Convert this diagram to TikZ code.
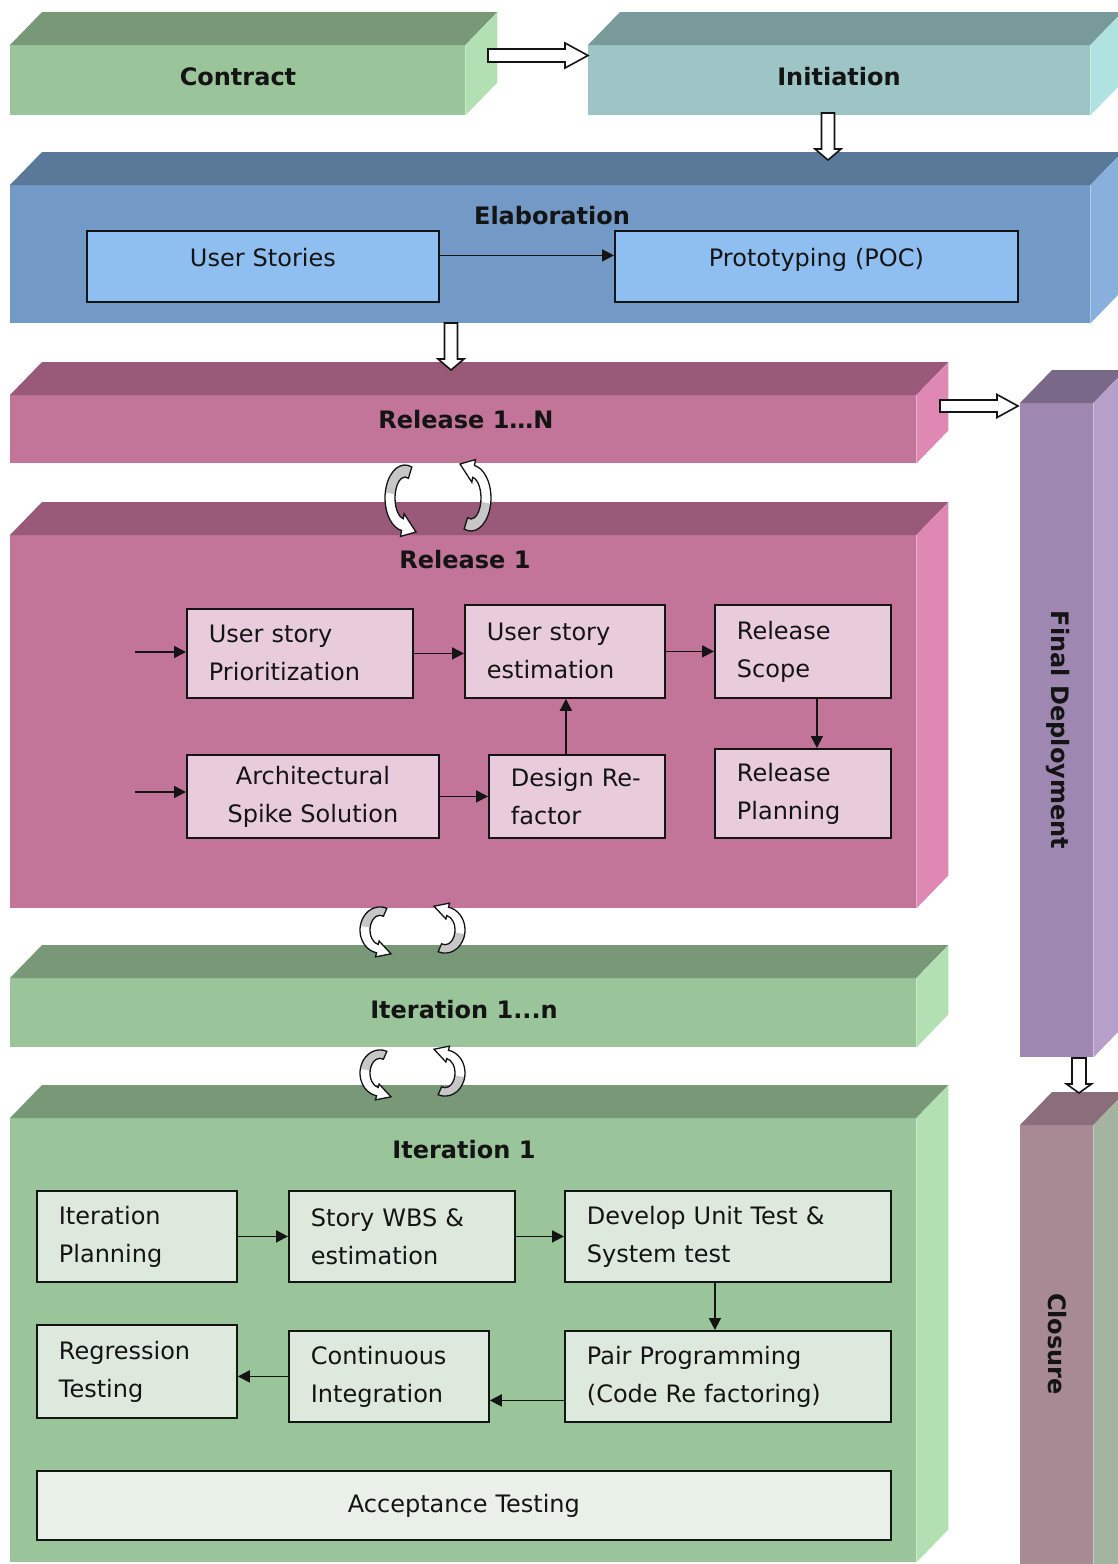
\documentclass[tikz,border=0pt]{standalone}
\usepackage{fontspec}
\setmainfont{DejaVu Sans}
\usetikzlibrary{calc,arrows.meta}
\definecolor{gF}{HTML}{9AC49A}\definecolor{gT}{HTML}{789878}\definecolor{gR}{HTML}{B2E0B2}
\definecolor{cF}{HTML}{9DC5C5}\definecolor{cT}{HTML}{789A9A}\definecolor{cR}{HTML}{B0E2E2}
\definecolor{bF}{HTML}{7399C6}\definecolor{bT}{HTML}{5A7898}\definecolor{bR}{HTML}{88B0DC}
\definecolor{pF}{HTML}{C27499}\definecolor{pT}{HTML}{985A78}\definecolor{pR}{HTML}{E088B4}
\definecolor{vF}{HTML}{9E88B2}\definecolor{vT}{HTML}{7A6888}\definecolor{vR}{HTML}{B6A0CA}
\definecolor{kF}{HTML}{A88A94}\definecolor{kT}{HTML}{8A6E7A}\definecolor{kR}{HTML}{A4B4A0}
\definecolor{pBox}{HTML}{E8CCDC}\definecolor{gBox}{HTML}{DDE9DC}\definecolor{gBoxL}{HTML}{E9F0E8}
\definecolor{bBox}{HTML}{8FBFF0}\definecolor{ink}{HTML}{141414}
\tikzset{
  front/.style={anchor=north west, inner sep=0pt, draw=none},
  title/.style={font=\bfseries\fontsize{24}{28}\selectfont, text=ink, inner sep=0pt},
  ibox/.style={anchor=north west, draw=ink, line width=1.8pt, inner ysep=0pt,
    font=\fontsize{24}{38}\selectfont, text=ink},
  conn/.style={draw=ink, line width=1.8pt, -{Triangle[length=12pt,width=12pt]}},
  hollow/.style={fill=white, draw=ink, line width=1.6pt, line join=miter},
}
\newcommand\block[8]{%
  \node[front, fill=#6, minimum width=#4pt, minimum height=#5pt] (#1) at (#2,#3) {};
  \fill[#7] (#1.north west) -- ++(32,-33) -- ($(#1.north east)+(32,-33)$) -- (#1.north east) -- cycle;
  \fill[#8] (#1.north east) -- ++(32,-33) -- ($(#1.south east)+(32,-33)$) -- (#1.south east) -- cycle;}
\newcommand\ibox[9]{%
  \pgfmathsetmacro\tw{#4-44}%
  \node[ibox, fill=#6, minimum width=#4pt, minimum height=#5pt, text width=\tw pt, inner xsep=22pt, align=#7] (#1) at (#2,#3) {#8#9};}
\newcommand\harrowR[5]{%
  \draw[hollow] ($(#1)+(0,-#3)$) -- ($(#2)+(-#5,-#3)$) -- ($(#2)+(-#5,-#4)$) -- (#2)
    -- ($(#2)+(-#5,#4)$) -- ($(#2)+(-#5,#3)$) -- ($(#1)+(0,#3)$) -- cycle;}
\newcommand\harrowD[5]{%
  \draw[hollow] ($(#1)+(-#3,0)$) -- ($(#2)+(-#3,-#5)$) -- ($(#2)+(-#4,-#5)$) -- (#2)
    -- ($(#2)+(#4,-#5)$) -- ($(#2)+(#3,-#5)$) -- ($(#1)+(#3,0)$) -- cycle;}
\newcommand\curvarrow[4]{%
  \begin{scope}[shift={(#1,#2)}, rotate=#3, yscale=#4]
    \fill[white] (-70:20 and 33) arc[start angle=-70, end angle=-260, x radius=20, y radius=33]
      -- (100:26 and 39) -- (11,34) -- (100:5 and 16) -- (100:10 and 21)
      arc[start angle=-260, end angle=-70, x radius=10, y radius=21] -- cycle;
    \fill[black!22] (-70:20 and 33) arc[start angle=-70, end angle=-170, x radius=20, y radius=33]
      -- (-170:10 and 21) arc[start angle=-170, end angle=-70, x radius=10, y radius=21] -- cycle;
    \draw[ink, line width=1.3pt, line join=miter] (-70:20 and 33) arc[start angle=-70, end angle=-260, x radius=20, y radius=33]
      -- (100:26 and 39) -- (11,34) -- (100:5 and 16) -- (100:10 and 21)
      arc[start angle=-260, end angle=-70, x radius=10, y radius=21] -- cycle;
  \end{scope}}
\begin{document}
\begin{tikzpicture}[x=1pt,y=-1pt]
\useasboundingbox (0,0) rectangle (1118,1564);
\clip (0,0) rectangle (1118,1564);
\fill[white] (0,0) rectangle (1118,1564);

% 3D blocks
\block{contract}{10}{45}{455}{70}{gF}{gT}{gR}
\block{initiation}{588}{45}{502}{70}{cF}{cT}{cR}
\block{elab}{10}{185}{1080}{138}{bF}{bT}{bR}
\block{relN}{10}{395}{906}{68}{pF}{pT}{pR}
\block{rel1}{10}{535}{906}{373}{pF}{pT}{pR}
\block{itN}{10}{978}{906}{69}{gF}{gT}{gR}
\block{it1}{10}{1118}{906}{444}{gF}{gT}{gR}
\block{final}{1020}{403}{73}{654}{vF}{vT}{vR}
\block{closure}{1020}{1125}{73}{480}{kF}{kT}{kR}

% titles
\node[title] (tContract) at (238,77) {Contract};
\node[title] (tInit) at (839,77) {Initiation};
\node[title] (tElab) at (552,216) {Elaboration};
\node[title] (tRelN) at (466,420) {Release 1…N};
\node[title] (tRel1) at (465,560) {Release 1};
\node[title] (tItN) at (464,1010) {Iteration 1...n};
\node[title] (tIt1) at (464,1150) {Iteration 1};
\node[title, rotate=-90] (tFinal) at (1058,730) {Final Deployment};
\node[title, rotate=-90] (tClosure) at (1057,1344) {Closure};

% Elaboration boxes
\ibox{usBox}{86}{230}{352}{71}{bBox}{center}{}{\smash{User Stories}}
\ibox{protoBox}{614}{230}{403}{71}{bBox}{center}{}{\smash{Prototyping (POC)}}
\draw[conn] ($(usBox.east)+(0,-11)$) -- ($(usBox.east -| protoBox.west)+(0,-11)$);

% Release 1 boxes
\ibox{prio}{186}{608}{226}{89}{pBox}{left}{}{User story\\Prioritization}
\ibox{est}{464}{604}{200}{93}{pBox}{left}{}{User story\\estimation}
\ibox{scope}{714}{604}{176}{93}{pBox}{left}{}{Release\\Scope}
\ibox{arch}{186}{754}{252}{83}{pBox}{center}{\fontsize{24}{30}\selectfont}{Architectural\\Spike Solution}
\ibox{design}{488}{754}{176}{83}{pBox}{left}{\fontsize{24}{30}\selectfont}{Design Re-\\factor}
\ibox{relplan}{714}{748}{176}{89}{pBox}{left}{}{Release\\Planning}
\coordinate (in1) at (135,652);
\coordinate (in2) at (135,792);
\draw[conn] (in1) -- (in1 -| prio.west);
\draw[conn] (prio.east) -- (prio.east -| est.west);
\draw[conn] (est.east) -- (scope.west);
\draw[conn] ([xshift=14pt]scope.south) -- ([xshift=14pt]relplan.north);
\draw[conn] (in2) -- (in2 -| arch.west);
\draw[conn] (arch.east) -- (design.west);
\draw[conn] ([xshift=-11pt]design.north) -- ([xshift=-11pt]design.north |- est.south);

% Iteration 1 boxes
\ibox{itplan}{36}{1190}{200}{91}{gBox}{left}{}{Iteration\\Planning}
\ibox{wbs}{288}{1190}{226}{91}{gBox}{left}{}{Story WBS \&\\estimation}
\ibox{dev}{564}{1190}{326}{91}{gBox}{left}{}{Develop Unit Test \&\\System test}
\ibox{regr}{36}{1324}{200}{93}{gBox}{left}{}{Regression\\Testing}
\ibox{ci}{288}{1330}{200}{91}{gBox}{left}{}{Continuous\\Integration}
\ibox{pair}{564}{1330}{326}{91}{gBox}{left}{}{Pair Programming\\(Code Re factoring)}
\ibox{accept}{36}{1470}{854}{69}{gBoxL}{center}{}{Acceptance Testing}
\draw[conn] (itplan.east) -- (wbs.west);
\draw[conn] (wbs.east) -- (dev.west);
\draw[conn] ([xshift=-13pt]dev.south) -- ([xshift=-13pt]pair.north);
\draw[conn] ($(pair.west)+(0,24)$) -- ($(pair.west -| ci.east)+(0,24)$);
\draw[conn] (ci.west) -- (ci.west -| regr.east);

% hollow block arrows
\coordinate (a1s) at (488,55.5); \coordinate (a1e) at (588,55.5);
\coordinate (a2s) at (828,113); \coordinate (a2e) at (828,160);
\coordinate (a3s) at (451,323); \coordinate (a3e) at (451,370);
\coordinate (a4s) at (940,406); \coordinate (a4e) at (1018,406);
\coordinate (a5s) at (1079,1058); \coordinate (a5e) at (1079,1093);
\harrowR{a1s}{a1e}{6.5}{12.5}{23}
\harrowD{a2s}{a2e}{6.5}{13}{11}
\harrowD{a3s}{a3e}{6.5}{13}{11}
\harrowR{a4s}{a4e}{6}{11.5}{21}
\harrowD{a5s}{a5e}{7}{12.5}{9}

% cycle arrows
\curvarrow{405}{498}{0}{1}
\curvarrow{471}{498}{180}{1}
\curvarrow{380}{930}{0}{0.7}
\curvarrow{445}{930}{180}{0.7}
\curvarrow{380}{1073}{0}{0.7}
\curvarrow{445}{1073}{180}{0.7}
\end{tikzpicture}
\end{document}
